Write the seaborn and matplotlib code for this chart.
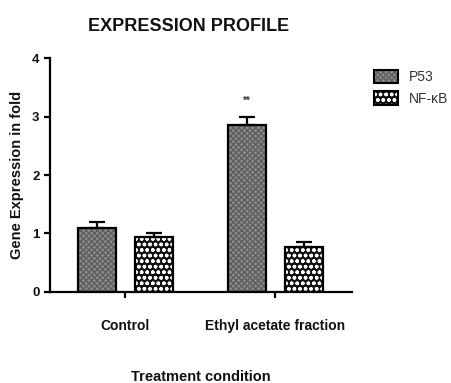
import numpy as np
import pandas as pd
import seaborn as sns
import matplotlib.pyplot as plt
from matplotlib.patches import Rectangle, Patch
from matplotlib.legend_handler import HandlerTuple

# datos
conditions = ["Control", "Ethyl acetate fraction"]
genes = ["P53", "NF-\u03baB"]
p53_mean = [1.10, 2.86]
p53_err = [0.10, 0.13]
nfkb_mean = [0.94, 0.77]
nfkb_err = [0.06, 0.08]
signif = ["", "**"]

df = pd.DataFrame({
    "condition": conditions * 2,
    "gene": [genes[0]] * 2 + [genes[1]] * 2,
    "value": p53_mean + nfkb_mean,
    "err": p53_err + nfkb_err,
})

sns.set_style("ticks")
plt.rcParams["font.family"] = ["Liberation Sans", "DejaVu Sans"]
plt.rcParams["hatch.linewidth"] = 1.0
plt.rcParams["text.color"] = "#111111"
plt.rcParams["axes.labelcolor"] = "#111111"

fig = plt.figure(figsize=(4.52, 3.83), dpi=100)
ax = fig.add_axes([0.1106, 0.2384, 0.668, 0.609])

sns.barplot(data=df, x="condition", y="value", hue="gene", order=conditions,
            hue_order=genes, width=0.76, gap=0.334, errorbar=None, ax=ax,
            legend=False)

styles = {genes[0]: dict(face="#8c8c8c", hatch="xxxxxx", hcolor="#5e5e5e"),
          genes[1]: dict(face="#111111", hatch="ooo", hcolor="white")}

for i, g in enumerate(genes):
    st = styles[g]
    bars = ax.containers[i]
    sub = df[df.gene == g]
    for bar, (_, row) in zip(bars, sub.iterrows()):
        bar.set_facecolor(st["face"])
        bar.set_edgecolor(st["hcolor"])
        bar.set_hatch(st["hatch"])
        bar.set_linewidth(0)
        x0, y0 = bar.get_xy()
        ax.add_patch(Rectangle((x0, y0), bar.get_width(), bar.get_height(),
                               fill=False, edgecolor="black", linewidth=1.6, zorder=3))
        xc = x0 + bar.get_width() / 2
        ax.errorbar(xc, row.value, yerr=[[0], [row.err]], color="black",
                    capsize=6, elinewidth=1.6, capthick=1.6, zorder=2)

# asteriscos de significancia
for bar, s, m, e in zip(ax.containers[0], signif, p53_mean, p53_err):
    if s:
        ax.text(bar.get_x() + bar.get_width() / 2, m + e + 0.2, s,
                ha="center", va="bottom", fontsize=7, fontweight="bold", color="#333333")

ax.set_ylim(0, 4)
ax.set_xlim(-0.5, 1.51)
ax.set_yticks([0, 1, 2, 3, 4])
for sp in ["top", "right"]:
    ax.spines[sp].set_visible(False)
for sp in ["left", "bottom"]:
    ax.spines[sp].set_linewidth(1.6)
    ax.spines[sp].set_color("black")
ax.tick_params(axis="both", width=1.6, length=4, labelsize=9.5, colors="black")
ax.tick_params(axis="x", labelsize=10, pad=16)
for lab in ax.get_xticklabels() + ax.get_yticklabels():
    lab.set_fontweight("bold")
    lab.set_color("#111111")

ax.set_title("EXPRESSION PROFILE", fontsize=13, fontweight="bold", pad=20, x=0.46)
ax.set_ylabel("Gene Expression in fold", fontsize=10.5, fontweight="bold", labelpad=6)
ax.set_xlabel("Treatment condition", fontsize=10.5, fontweight="bold", labelpad=26)

handles = []
for g in genes:
    st = styles[g]
    fill = Patch(facecolor=st["face"], edgecolor=st["hcolor"], hatch=st["hatch"], linewidth=0)
    outline = Patch(fill=False, edgecolor="black", linewidth=1.5)
    handles.append((fill, outline))
leg = fig.legend(handles, genes, loc="upper left", bbox_to_anchor=(0.8, 0.85),
                 frameon=False, fontsize=10, handlelength=1.7, handleheight=1.1,
                 labelspacing=0.5, handler_map={tuple: HandlerTuple(ndivide=1)})
for t in leg.get_texts():
    t.set_color("#333333")

fig.savefig("out.png", dpi=100)
